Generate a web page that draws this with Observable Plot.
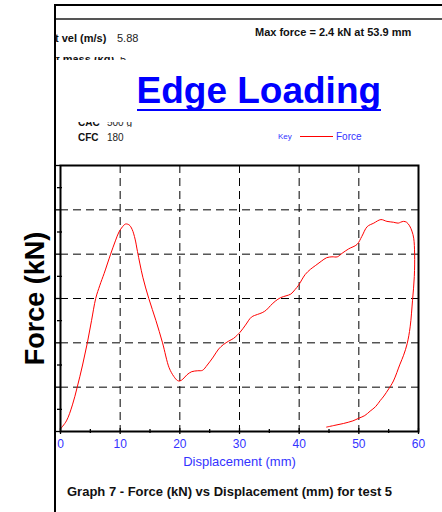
<!DOCTYPE html>
<html><head><meta charset="utf-8">
<script src="https://cdn.jsdelivr.net/npm/d3@7"></script>
<script src="https://cdn.jsdelivr.net/npm/@observablehq/plot@0.6"></script>
<style>
body{margin:0;background:#fff;font-family:"Liberation Sans",Arial,Helvetica,sans-serif;}
#page{position:relative;width:442px;height:512px;overflow:hidden;background:#fff;}
#page svg{position:absolute;left:0;top:0;}
.t{position:absolute;white-space:nowrap;line-height:1;color:#222;}
.b{font-weight:bold;color:#111;}
.clip{position:absolute;overflow:hidden;}
.ln{position:absolute;}
</style></head><body><div id="page"></div>
<script>
// ---- data ----
const displacement = [0,1.0,2.0,2.8,3.7,4.5,5.2,5.9,6.6,7.3,
  8.4,9.2,9.8,10.4,10.9,11.5,12.0,12.5,12.9,13.8,
  14.8,16.0,17.1,18.2,19.0,19.6,20.0,20.5,21.2,22.0,
  23.0,23.8,24.6,25.6,26.5,27.3,28.2,29.0,30.1,31.0,
  32.0,33.0,33.8,34.5,35.2,36.0,36.9,37.8,38.6,39.3,
  39.9,41.0,41.9,42.7,43.7,44.6,45.5,46.4,47.2,48.3,
  49.7,50.5,51.4,52.5,53.7,54.7,55.8,56.6,57.0,57.5,
  58.0,58.5,58.9,59.2,59.35,59.3,59.0,58.6,58.1,57.5,
  56.9,55.8,55.0,54.2,53.6,52.8,51.9,51.0,50.0,49.0,
  47.4,46.0,44.6];
const force = [0.03,0.12,0.3,0.5,0.75,1.0,1.25,1.5,1.65,1.78,
  2.0,2.15,2.25,2.31,2.34,2.33,2.28,2.17,2.03,1.74,
  1.5,1.25,1.0,0.72,0.62,0.575,0.57,0.59,0.64,0.675,
  0.685,0.69,0.75,0.84,0.93,0.98,1.02,1.05,1.12,1.2,
  1.29,1.32,1.34,1.37,1.42,1.47,1.51,1.53,1.55,1.6,
  1.65,1.77,1.83,1.87,1.92,1.96,1.97,1.97,2.01,2.06,
  2.11,2.2,2.31,2.35,2.39,2.37,2.36,2.35,2.36,2.37,
  2.36,2.32,2.26,2.18,2.0,1.75,1.48,1.18,0.99,0.86,
  0.76,0.57,0.48,0.4,0.35,0.28,0.23,0.18,0.15,0.12,
  0.09,0.07,0.05];
const xMajorTicks = [0,10,20,30,40,50,60];
const xMinorTicks = [5,15,25,35,45,55];
const yMajorTicks = [0,0.5,1,1.5,2,2.5,3];
const yMinorTicks = [0.25,0.75,1.25,1.75,2.25,2.75];
const xDomain = [0,60];
const yDomain = [0,3];
const xLabel = "Displacement (mm)";
const yLabel = "Force (kN)";
const title = "Edge Loading";
const maxNote = "Max force = 2.4 kN at 53.9 mm";
const caption = "Graph 7 - Force (kN) vs Displacement (mm) for test 5";
const seriesName = "Force";

const rows = displacement.map((d,i)=>({d, f: force[i]}));
const blue = "#3333ff";
const font = "Liberation Sans, Arial, Helvetica, sans-serif";
const noText = () => "";

const chart = Plot.plot({
  width: 442, height: 512,
  marginLeft: 60, marginRight: 24, marginTop: 165, marginBottom: 81,
  style: {fontFamily: font, background: "transparent", overflow: "visible"},
  x: {domain: xDomain},
  y: {domain: yDomain},
  marks: [
    Plot.gridX(xMajorTicks.slice(1,-1), {stroke:"#000", strokeOpacity:1, strokeWidth:1, strokeDasharray:"8,5"}),
    Plot.gridY(yMajorTicks.slice(1,-1), {stroke:"#000", strokeOpacity:1, strokeWidth:1, strokeDasharray:"8,5"}),
    Plot.line(rows, {x:"d", y:"f", stroke:"#ff0000", strokeWidth:1, curve:"catmull-rom"}),
    Plot.frame({stroke:"#000", strokeWidth:2}),
    Plot.axisX(xMajorTicks, {tickSize:3, tickFormat:noText, label:null, stroke:"#000", strokeWidth:1.3}),
    Plot.axisX(xMajorTicks, {tickSize:-3, tickFormat:noText, label:null, stroke:"#000", strokeWidth:1.3}),
    Plot.axisX(xMinorTicks, {tickSize:2, tickFormat:noText, label:null, stroke:"#000", strokeWidth:1.3}),
    Plot.axisX(xMinorTicks, {tickSize:-2, tickFormat:noText, label:null, stroke:"#000", strokeWidth:1.3}),
    Plot.axisY(yMajorTicks, {tickSize:5, tickFormat:noText, label:null, stroke:"#000", strokeWidth:1.3}),
    Plot.axisY(yMinorTicks, {tickSize:3, tickFormat:noText, label:null, stroke:"#000", strokeWidth:1.3}),
    Plot.axisY(yMinorTicks, {tickSize:-2, tickFormat:noText, label:null, stroke:"#000", strokeWidth:1.3}),
    Plot.axisX(xMajorTicks, {tickSize:0, tickPadding:8, fill:blue, fontSize:12, label:null}),
    Plot.text([xLabel], {frameAnchor:"bottom", text:d=>d, dy:30, lineAnchor:"middle", textAnchor:"middle", fill:blue, fontSize:13}),
    Plot.text([yLabel], {frameAnchor:"left", text:d=>d, rotate:-90, dx:-25, textAnchor:"middle", lineAnchor:"middle", fill:"#000", fontSize:27, fontWeight:"bold"})
  ]
});

const page = document.getElementById("page");
page.appendChild(chart);

function addText(txt, left, baseline, size, cls, color, parent) {
  const el = document.createElement("div");
  el.className = "t " + (cls||"");
  el.textContent = txt;
  el.style.left = left + "px";
  el.style.top = (baseline - 0.8465*size) + "px";
  el.style.fontSize = size + "px";
  if (color) el.style.color = color;
  (parent||page).appendChild(el);
  return el;
}
function addLine(left, top, width, height, color) {
  const el = document.createElement("div");
  el.className = "ln";
  Object.assign(el.style, {left:left+"px", top:top+"px", width:width+"px", height:height+"px", background:color});
  page.appendChild(el);
  return el;
}
function addClip(left, top, width, height) {
  const el = document.createElement("div");
  el.className = "clip";
  Object.assign(el.style, {left:left+"px", top:top+"px", width:width+"px", height:height+"px"});
  page.appendChild(el);
  return el;
}

// page frame lines
addLine(54, 4, 2, 508, "#000");
addLine(54, 4, 388, 2, "#000");
addLine(56, 18.3, 386, 1.5, "#555");

// header info
addText("t vel (m/s)", 55, 42, 11, "b");
addText("5.88", 117, 42, 11, "");
addText(maxNote, 255, 36, 11, "b");
const c1 = addClip(56, 56.8, 120, 3.4);
addText("t mass (kg)", 0, 63 - 56.8, 11, "b", null, c1);
addText("5", 64, 63 - 56.8, 11, "", null, c1);
const c2 = addClip(56, 122.4, 120, 5);
addText("CAC", 22, 126.7 - 122.4, 10, "b", null, c2);
addText("500 g", 51, 126.7 - 122.4, 10, "", null, c2);
addText("CFC", 78, 141, 10, "b");
addText("180", 107, 141, 10, "");

// title with underline
const tEl = addText(title, 136.5, 103.3, 37, "b", "#0000ff");
const tw = tEl.getBoundingClientRect().width;
addLine(136.5, 109.3, tw, 2.2, "#0000ff");

// key
addText("Key", 278, 140, 8, "", blue);
addLine(300, 135.5, 33, 1.2, "#ff0000");
addText(seriesName, 336, 140, 10, "", blue);

// caption
addText(caption, 67, 496, 13, "b");
</script>
</body></html>
